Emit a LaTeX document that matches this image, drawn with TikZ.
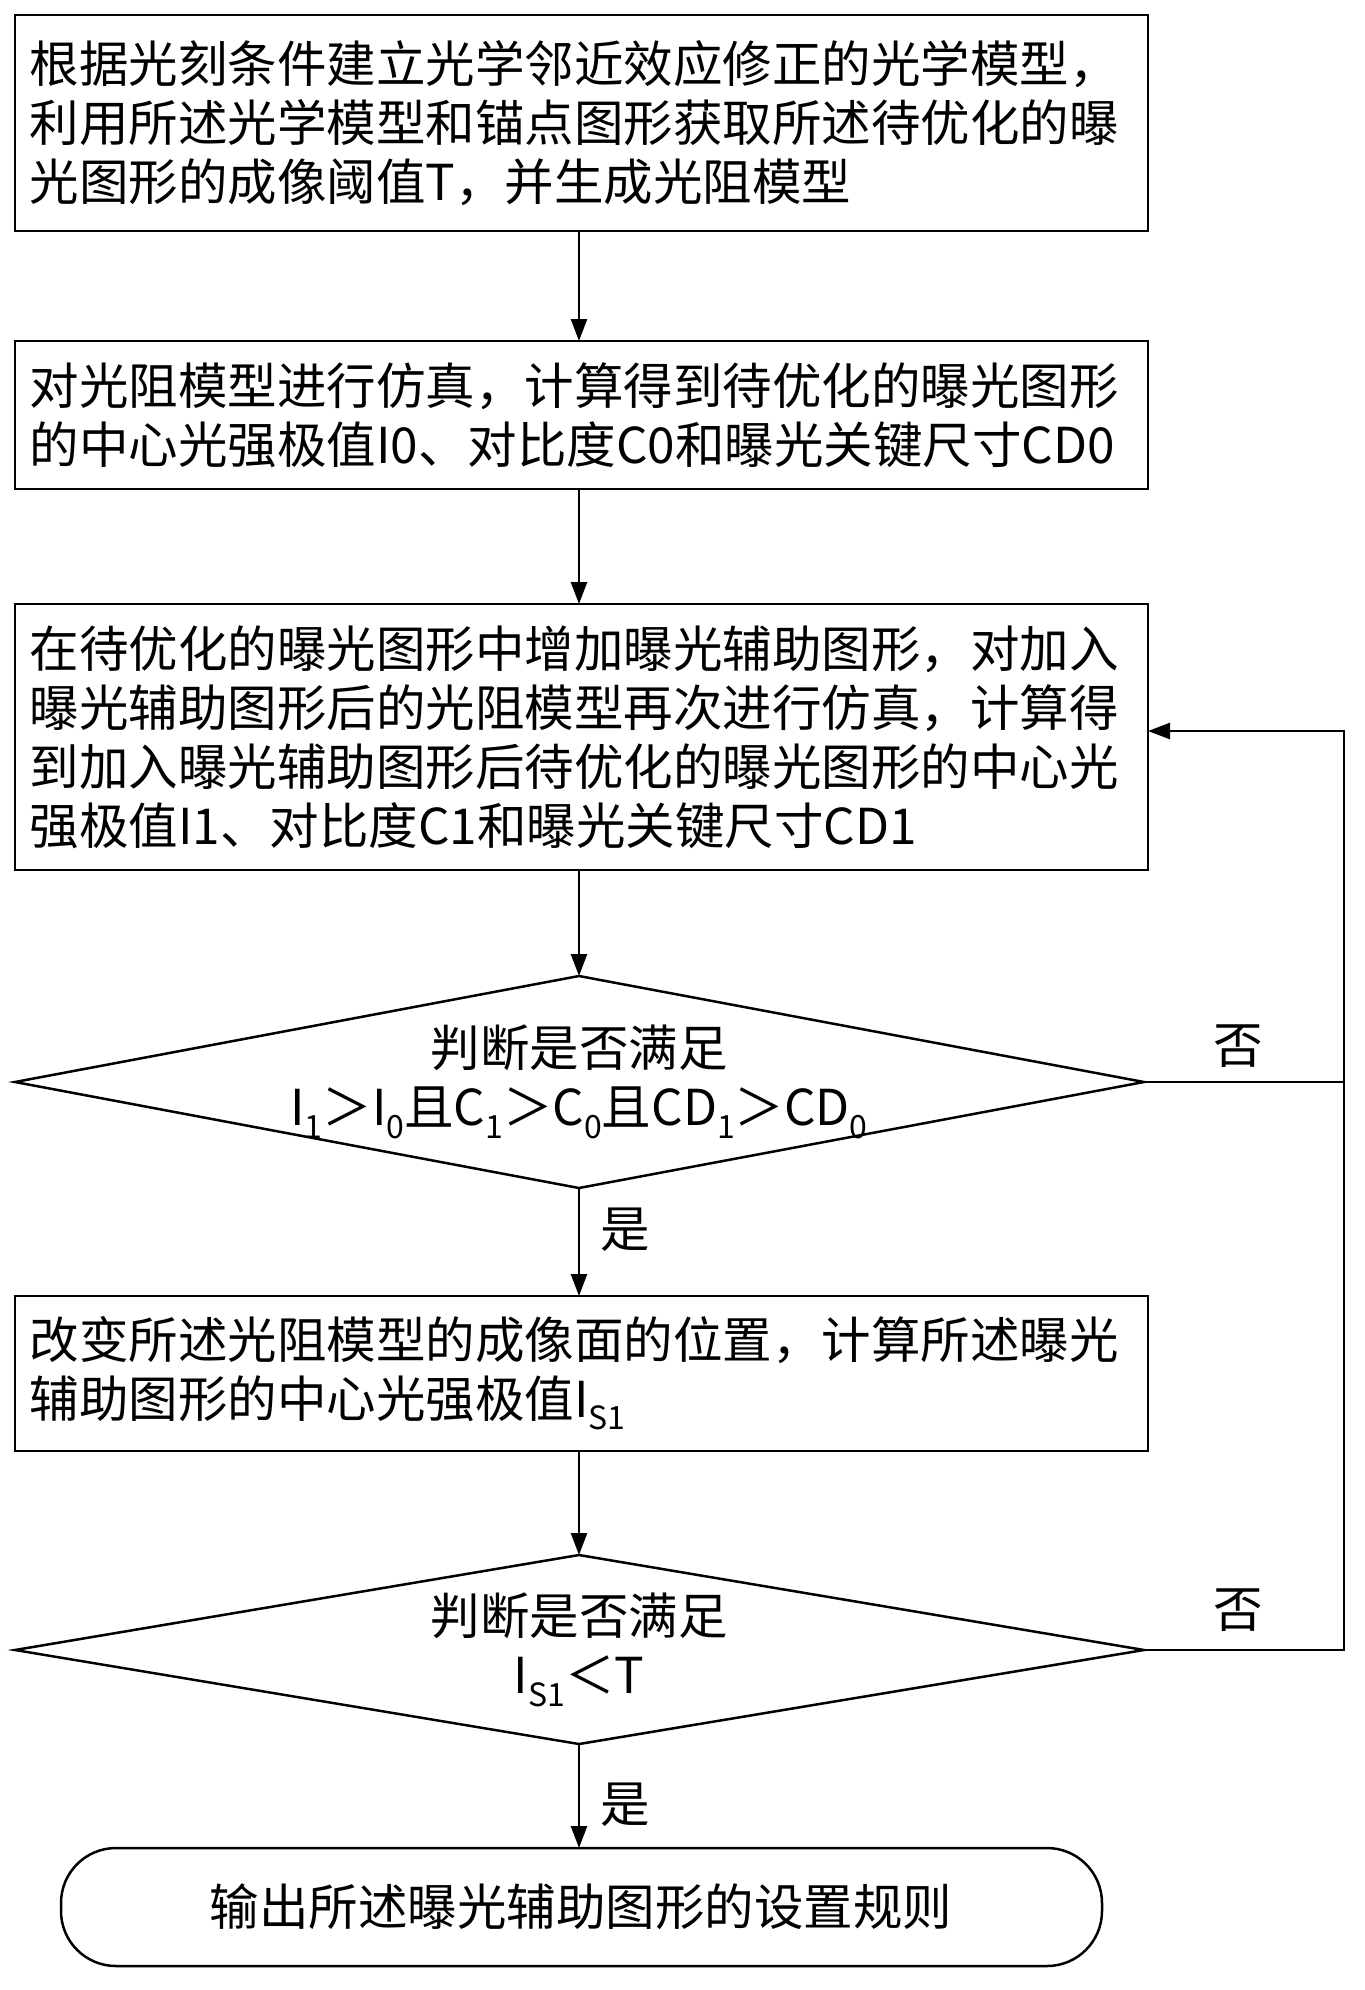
\documentclass[tikz,border=0pt]{standalone}
\usepackage{fontspec}
\setmainfont{Noto Sans CJK SC}
\usetikzlibrary{shapes.geometric,arrows.meta}
\newcommand{\mysub}[1]{\raisebox{-0.25em}{\fontsize{32}{32}\selectfont #1}}
\begin{document}
\begin{tikzpicture}[x=1pt,y=-1pt,
  txt/.style={font=\fontsize{49.5}{59}\selectfont},
  arr/.style={line width=2.5pt,-{Triangle[length=22pt,width=16pt]}},
  ln/.style={line width=2.5pt}]
\useasboundingbox (0,0) rectangle (1365,1990);
\draw[ln] (15,15) rectangle (1148,231);
\node[txt,align=left,anchor=west] (b1) at (26,123) {根据光刻条件建立光学邻近效应修正的光学模型，\\利用所述光学模型和锚点图形获取所述待优化的曝\\光图形的成像阈值T，并生成光阻模型};
\draw[ln] (15,341) rectangle (1148,489);
\node[txt,align=left,anchor=west] (b2) at (26,415) {对光阻模型进行仿真，计算得到待优化的曝光图形\\的中心光强极值I0、对比度C0和曝光关键尺寸CD0};
\draw[ln] (15,604) rectangle (1148,870);
\node[txt,align=left,anchor=west] (b3) at (26,737) {在待优化的曝光图形中增加曝光辅助图形，对加入\\曝光辅助图形后的光阻模型再次进行仿真，计算得\\到加入曝光辅助图形后待优化的曝光图形的中心光\\强极值I1、对比度C1和曝光关键尺寸CD1};
\draw[ln] (15,1082) -- (579,976) -- (1144,1082) -- (579,1188) -- cycle;
\node[txt,align=center] (d1) at (579,1082) {判断是否满足\\I\mysub{1}＞I\mysub{0}且C\mysub{1}＞C\mysub{0}且CD\mysub{1}＞CD\mysub{0}};
\draw[ln] (15,1296) rectangle (1148,1451);
\node[txt,align=left,anchor=west] (b4) at (26,1373) {改变所述光阻模型的成像面的位置，计算所述曝光\\辅助图形的中心光强极值I\mysub{S1}};
\draw[ln] (15,1650) -- (579,1555) -- (1144,1650) -- (579,1744) -- cycle;
\node[txt,align=center] (d2) at (579,1650) {判断是否满足\\I\mysub{S1}＜T};
\draw[ln,rounded corners=55pt] (61,1848) rectangle (1102,1966);
\node[txt] (t) at (581,1907) {输出所述曝光辅助图形的设置规则};
\coordinate (a1) at (579,231); \coordinate (a2) at (579,341);
\draw[arr] (a1) -- (a2);
\coordinate (c1) at (579,489); \coordinate (c2) at (579,604);
\draw[arr] (c1) -- (c2);
\coordinate (e1) at (579,870); \coordinate (e2) at (579,976);
\draw[arr] (e1) -- (e2);
\coordinate (f1) at (579,1188); \coordinate (f2) at (579,1296);
\draw[arr] (f1) -- (f2);
\coordinate (g1) at (579,1451); \coordinate (g2) at (579,1555);
\draw[arr] (g1) -- (g2);
\coordinate (h1) at (579,1744); \coordinate (h2) at (579,1848);
\draw[arr] (h1) -- (h2);
\coordinate (r1) at (1144,1082); \coordinate (r2) at (1144,1650);
\coordinate (rin) at (1148,731);
\draw[ln] (r1) -- (1344,1082);
\draw[arr] (r2) -- (1344,1650) -- (1344,731) -- (rin);
\node[txt] (n1) at (1238,1046) {否};
\node[txt] (n2) at (1238,1610) {否};
\node[txt] (y1) at (625,1230) {是};
\node[txt] (y2) at (625,1805) {是};
\end{tikzpicture}
\end{document}
